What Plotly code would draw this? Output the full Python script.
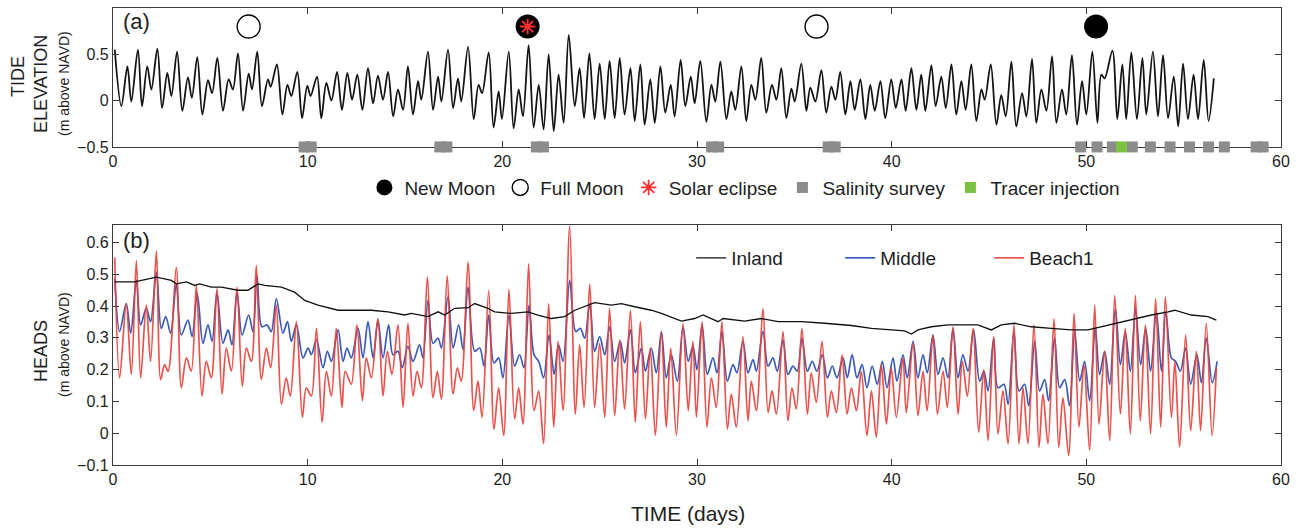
import plotly.graph_objects as go

# ---------------- DATA ----------------
tide_day = [0.09, 0.43, 0.74, 0.94, 1.28, 1.49, 1.76, 1.97, 2.28, 2.52, 2.79, 3.0, 3.29, 3.56, 3.85, 4.05,
            4.33, 4.59, 4.88, 5.09, 5.36, 5.65, 5.94, 6.16, 6.42, 6.68, 6.97, 7.14, 7.41, 7.65, 7.96, 8.1,
            8.42, 8.7, 8.96, 9.16, 9.47, 9.71, 9.98, 10.15, 10.48, 10.7, 10.96, 11.22, 11.51, 11.76, 12.04, 12.28,
            12.55, 12.81, 13.1, 13.36, 13.61, 13.87, 14.13, 14.39, 14.64, 14.9,
            15.15, 15.41, 15.67, 15.84, 16.18, 16.44, 16.7, 16.87, 17.21, 17.47, 17.72, 17.89, 18.24, 18.53, 18.78, 18.96,
            19.3, 19.55, 19.81, 19.98, 20.33, 20.58, 20.84, 21.06, 21.35, 21.61, 21.87, 22.12, 22.38, 22.64, 22.89, 23.15,
            23.41, 23.72, 23.97, 24.2, 24.47, 24.74, 25.0, 25.26, 25.51, 25.77, 26.03, 26.28, 26.58, 26.8, 27.09, 27.31,
            27.6, 27.83, 28.12, 28.37, 28.65, 28.85, 29.16, 29.4, 29.68, 29.88,
            30.17, 30.48, 30.74, 30.94, 31.2, 31.51, 31.76, 31.97, 32.28, 32.53, 32.79, 33.0, 33.3, 33.56, 33.85, 34.08,
            34.33, 34.59, 34.85, 35.02, 35.36, 35.62, 35.82, 36.08, 36.39, 36.64, 36.9, 37.11, 37.36, 37.62, 37.88, 38.1,
            38.39, 38.65, 38.9, 39.13, 39.42, 39.67, 39.98, 40.21, 40.5, 40.72, 41.01, 41.27, 41.52, 41.73, 42.04, 42.26,
            42.55, 42.78, 43.07, 43.32, 43.58, 43.8, 44.09, 44.35, 44.61, 44.78,
            45.09, 45.38, 45.63, 45.86, 46.15, 46.4, 46.7, 46.92, 47.21, 47.43, 47.69, 47.95, 48.24, 48.46, 48.75, 48.97,
            49.26, 49.52, 49.78, 50.0, 50.31, 50.57, 50.77, 50.94, 51.34, 51.59, 51.85, 52.05, 52.31, 52.6, 52.88, 53.08,
            53.42, 53.68, 53.94, 54.2, 54.49, 54.72, 54.97, 55.22, 55.51, 55.74, 56.03, 56.28, 56.55]
tide_m = [0.55, -0.06, 0.37, -0.01, 0.55, -0.06, 0.37, 0.12, 0.56, -0.08, 0.30, 0.05, 0.53, -0.11, 0.25, 0.03,
          0.47, -0.15, 0.22, 0.08, 0.46, -0.11, 0.23, 0.12, 0.51, -0.11, 0.29, 0.12, 0.53, -0.06, 0.23, 0.15,
          0.39, -0.15, 0.17, 0.05, 0.31, -0.19, 0.16, 0.05, 0.26, -0.19, 0.19, 0.0, 0.31, -0.10, 0.30, 0.01,
          0.28, -0.10, 0.35, -0.03, 0.27, 0.01, 0.31, -0.17, 0.12, -0.10,
          0.37, -0.15, 0.21, 0.01, 0.53, -0.10, 0.26, -0.01, 0.55, -0.08, 0.24, -0.01, 0.58, -0.20, 0.17, 0.08,
          0.52, -0.29, 0.10, -0.20, 0.53, -0.30, 0.12, -0.17, 0.60, -0.29, 0.17, -0.31, 0.50, -0.33, 0.28, -0.24,
          0.71, -0.06, 0.35, -0.19, 0.51, -0.20, 0.40, -0.20, 0.43, -0.19, 0.46, -0.15, 0.35, -0.22, 0.39, -0.26,
          0.23, -0.24, 0.37, -0.13, 0.17, -0.17, 0.44, -0.06, 0.26, -0.03,
          0.43, -0.23, 0.17, -0.01, 0.42, -0.20, 0.10, -0.10, 0.37, -0.22, 0.17, 0.01, 0.46, -0.13, 0.17, 0.01,
          0.35, -0.19, 0.13, -0.01, 0.40, -0.11, 0.14, -0.01, 0.33, -0.13, 0.15, 0.01, 0.31, -0.15, 0.21, -0.10,
          0.23, -0.20, 0.17, -0.11, 0.21, -0.19, 0.23, -0.08, 0.23, -0.11, 0.35, -0.10, 0.28, -0.11, 0.38, -0.06,
          0.26, -0.08, 0.39, -0.15, 0.21, -0.10, 0.39, -0.22, 0.12, 0.01,
          0.39, -0.26, 0.06, -0.17, 0.42, -0.28, 0.08, -0.17, 0.45, -0.24, 0.12, -0.11, 0.48, -0.24, 0.12, -0.15,
          0.49, -0.26, 0.21, -0.15, 0.53, -0.24, 0.28, 0.24, 0.54, -0.20, 0.39, -0.20, 0.52, -0.20, 0.46, -0.15,
          0.53, -0.17, 0.49, -0.19, 0.26, -0.28, 0.40, -0.20, 0.28, -0.20, 0.44, -0.22, 0.24]

new_moon_day = [21.3, 50.5]
full_moon_day = [6.97, 36.14]
eclipse_day = [21.3]
moon_level = 0.8
survey_day = [9.82, 10.18, 16.79, 17.15, 21.75, 22.11, 30.75, 31.11, 36.74, 37.1,
              49.71, 50.55, 51.34, 52.36, 53.29, 54.3, 55.3, 56.28, 57.09, 58.72, 59.08]
tracer_day = [51.8]
axis_floor = -0.5

inland_day = [0.09, 1.11, 2.23, 3.0, 3.25, 3.77, 4.2, 4.45, 5.05, 5.57, 6.42, 6.93, 7.45, 7.79, 8.65,
              9.33, 9.85, 10.53, 11.56, 12.59, 13.27, 14.13, 14.98, 15.33, 16.18, 16.7, 17.04, 17.55, 18.24, 18.58,
              19.26, 19.61, 20.46, 21.32, 21.83, 22.52, 23.2, 23.72, 24.23, 24.74, 25.6, 26.11, 26.8, 27.65, 28.17,
              28.85, 29.2, 29.88, 30.31, 31.08, 31.34, 32.45, 33.3, 34.16, 35.36, 36.56, 37.93, 38.96, 39.98, 40.67,
              41.01, 41.35, 42.04, 42.89, 43.58, 44.43, 45.12, 45.63, 46.32, 47.17, 48.2, 49.23, 50.09, 50.77, 51.46,
              52.31, 53.34, 54.2, 54.54, 55.39, 56.25, 56.68]
inland_m = [0.476, 0.476, 0.491, 0.481, 0.47, 0.476, 0.465, 0.47, 0.46, 0.46, 0.45, 0.45, 0.47, 0.465, 0.46,
            0.444, 0.418, 0.403, 0.387, 0.387, 0.387, 0.382, 0.372, 0.377, 0.367, 0.382, 0.372, 0.393, 0.395, 0.408,
            0.393, 0.382, 0.377, 0.382, 0.372, 0.361, 0.367, 0.387, 0.398, 0.411, 0.403, 0.408, 0.398, 0.387, 0.377,
            0.361, 0.353, 0.361, 0.372, 0.351, 0.361, 0.353, 0.361, 0.351, 0.351, 0.346, 0.339, 0.33, 0.325, 0.322,
            0.312, 0.325, 0.335, 0.341, 0.341, 0.341, 0.325, 0.341, 0.346, 0.335, 0.33, 0.325, 0.325, 0.335, 0.346,
            0.359, 0.372, 0.382, 0.387, 0.372, 0.367, 0.356]

middle_day = [0.09, 0.34, 0.68, 0.91, 1.2, 1.42, 1.71, 1.93, 2.23, 2.48, 2.71, 2.96, 3.25, 3.51, 3.85, 4.06,
              4.33, 4.62, 4.88, 5.09, 5.34, 5.65, 5.91, 6.11, 6.37, 6.63, 6.97, 7.19, 7.4, 7.65, 7.91, 8.13,
              8.39, 8.73, 8.96, 9.16, 9.42, 9.76, 10.02, 10.19, 10.45, 10.79, 11.01, 11.22, 11.56, 11.82, 12.02, 12.24,
              12.59, 12.84, 13.1, 13.36, 13.61, 13.87, 14.16, 14.38, 14.64, 14.86,
              15.15, 15.41, 15.75, 15.92, 16.18, 16.44, 16.7, 16.87, 17.21, 17.47, 17.76, 17.98, 18.24, 18.58, 18.84, 19.06,
              19.3, 19.57, 19.81, 20.03, 20.34, 20.63, 20.89, 21.11, 21.37, 21.63, 21.87, 22.12, 22.4, 22.66, 22.89, 23.12,
              23.46, 23.77, 24.01, 24.23, 24.49, 24.74, 25.0, 25.26, 25.51, 25.77, 26.06, 26.28, 26.58, 26.83, 27.14, 27.35,
              27.65, 27.91, 28.17, 28.42, 28.68, 28.99, 29.28, 29.55, 29.79,
              30.0, 30.26, 30.53, 30.82, 31.03, 31.28, 31.56, 31.85, 32.05, 32.36, 32.62, 32.88, 33.05, 33.39, 33.65, 33.9,
              34.12, 34.42, 34.67, 34.93, 35.15, 35.39, 35.67, 35.92, 36.16, 36.44, 36.7, 36.95, 37.19, 37.5, 37.72, 37.97,
              38.22, 38.48, 38.73, 39.0, 39.26, 39.52, 39.76, 40.07, 40.27, 40.58, 40.8, 41.1, 41.35, 41.61, 41.83, 42.12,
              42.38, 42.64, 42.89, 43.15, 43.41, 43.66, 43.92, 44.21, 44.52, 44.74,
              44.95, 45.24, 45.46, 45.77, 45.98, 46.28, 46.54, 46.83, 47.04, 47.35, 47.6, 47.86, 48.06, 48.37, 48.63, 48.89,
              49.14, 49.4, 49.66, 49.91, 50.17, 50.46, 50.68, 50.94, 51.2, 51.49, 51.75, 52.0, 52.26, 52.53, 52.79, 53.05,
              53.3, 53.6, 53.86, 54.08, 54.37, 54.59, 54.83, 55.1, 55.36, 55.68, 55.91, 56.16, 56.47, 56.72]
middle_m = [0.486, 0.32, 0.408, 0.315, 0.481, 0.341, 0.393, 0.351, 0.507, 0.33, 0.367, 0.315, 0.47, 0.309, 0.356, 0.304,
            0.439, 0.283, 0.341, 0.289, 0.444, 0.283, 0.325, 0.278, 0.444, 0.309, 0.372, 0.32, 0.496, 0.335, 0.341, 0.32,
            0.424, 0.315, 0.351, 0.289, 0.341, 0.237, 0.268, 0.247, 0.294, 0.206, 0.258, 0.226, 0.325, 0.226, 0.268, 0.237,
            0.33, 0.237, 0.351, 0.237, 0.356, 0.237, 0.341, 0.247, 0.258, 0.206,
            0.273, 0.226, 0.278, 0.237, 0.418, 0.283, 0.299, 0.268, 0.429, 0.268, 0.341, 0.263, 0.46, 0.258, 0.268, 0.211,
            0.372, 0.221, 0.237, 0.174, 0.372, 0.211, 0.247, 0.206, 0.403, 0.247, 0.226, 0.174, 0.309, 0.185, 0.278, 0.226,
            0.481, 0.32, 0.33, 0.299, 0.408, 0.258, 0.304, 0.247, 0.335, 0.226, 0.289, 0.221, 0.325, 0.19, 0.268, 0.195,
            0.268, 0.19, 0.32, 0.174, 0.247, 0.164, 0.335, 0.226, 0.273,
            0.2, 0.341, 0.185, 0.237, 0.19, 0.32, 0.164, 0.216, 0.19, 0.289, 0.19, 0.232, 0.195, 0.32, 0.211, 0.237,
            0.195, 0.294, 0.185, 0.211, 0.195, 0.299, 0.195, 0.226, 0.195, 0.247, 0.174, 0.211, 0.174, 0.237, 0.174, 0.247,
            0.174, 0.216, 0.143, 0.211, 0.154, 0.226, 0.143, 0.237, 0.164, 0.247, 0.174, 0.289, 0.174, 0.247, 0.19, 0.309,
            0.185, 0.237, 0.174, 0.33, 0.174, 0.247, 0.195, 0.325, 0.164, 0.195,
            0.133, 0.299, 0.143, 0.154, 0.091, 0.32, 0.133, 0.154, 0.086, 0.289, 0.133, 0.169, 0.102, 0.299, 0.143, 0.169,
            0.086, 0.32, 0.164, 0.226, 0.102, 0.335, 0.185, 0.258, 0.154, 0.393, 0.216, 0.32, 0.195, 0.393, 0.216, 0.33,
            0.195, 0.382, 0.195, 0.382, 0.237, 0.226, 0.195, 0.268, 0.154, 0.247, 0.159, 0.299, 0.159, 0.226]

beach_day = [0.09, 0.34, 0.68, 0.94, 1.2, 1.42, 1.71, 1.93, 2.23, 2.45, 2.65, 2.83, 3.25, 3.51, 3.77, 4.02,
             4.28, 4.57, 4.79, 5.05, 5.34, 5.6, 5.82, 6.08, 6.37, 6.64, 6.85, 7.11, 7.36, 7.62, 7.88, 8.1,
             8.39, 8.65, 8.9, 9.11, 9.42, 9.73, 9.93, 10.19, 10.45, 10.74, 10.96, 11.22, 11.47, 11.76, 11.93, 12.24,
             12.53, 12.81, 13.01, 13.27, 13.61, 13.87, 14.09, 14.33, 14.64, 14.9,
             15.15, 15.41, 15.62, 15.84, 16.15, 16.44, 16.66, 16.87, 17.17, 17.47, 17.69, 17.89, 18.24, 18.53, 18.75, 18.96,
             19.3, 19.57, 19.81, 20.07, 20.34, 20.63, 20.84, 21.06, 21.35, 21.63, 21.87, 22.12, 22.38, 22.64, 22.86, 23.12,
             23.46, 23.75, 23.97, 24.2, 24.49, 24.74, 25.0, 25.26, 25.51, 25.77, 26.03, 26.28, 26.58, 26.83, 27.09, 27.35,
             27.6, 27.86, 28.17, 28.42, 28.65, 28.94, 29.28, 29.55, 29.79,
             29.97, 30.26, 30.51, 30.74, 30.99, 31.28, 31.56, 31.76, 32.02, 32.36, 32.62, 32.79, 33.05, 33.39, 33.65, 33.85,
             34.08, 34.42, 34.67, 34.88, 35.1, 35.39, 35.67, 35.87, 36.13, 36.42, 36.7, 36.9, 37.16, 37.45, 37.71, 37.93,
             38.19, 38.44, 38.73, 38.96, 39.21, 39.47, 39.73, 39.98, 40.24, 40.58, 40.75, 41.1, 41.35, 41.61, 41.82, 42.12,
             42.35, 42.64, 42.86, 43.15, 43.41, 43.63, 43.89, 44.18, 44.47, 44.73,
             44.95, 45.24, 45.46, 45.72, 45.98, 46.28, 46.54, 46.75, 47.0, 47.31, 47.57, 47.77, 48.03, 48.34, 48.58, 48.8,
             49.09, 49.37, 49.62, 49.88, 50.17, 50.43, 50.65, 50.94, 51.2, 51.46, 51.75, 52.0, 52.26, 52.52, 52.77, 53.03,
             53.3, 53.56, 53.82, 54.06, 54.37, 54.55, 54.79, 55.1, 55.36, 55.65, 55.87, 56.16, 56.46, 56.68]
beach_m = [0.553, 0.174, 0.408, 0.185, 0.543, 0.174, 0.403, 0.226, 0.574, 0.169, 0.216, 0.195, 0.522, 0.143, 0.237, 0.195,
           0.465, 0.117, 0.226, 0.174, 0.455, 0.123, 0.268, 0.195, 0.46, 0.148, 0.268, 0.226, 0.528, 0.169, 0.268, 0.206,
           0.403, 0.091, 0.174, 0.117, 0.351, 0.05, 0.143, 0.117, 0.33, 0.034, 0.195, 0.117, 0.33, 0.081, 0.195, 0.154,
           0.341, 0.102, 0.237, 0.174, 0.361, 0.117, 0.258, 0.185, 0.341, 0.081,
           0.346, 0.117, 0.195, 0.143, 0.491, 0.112, 0.195, 0.107, 0.496, 0.123, 0.206, 0.164, 0.538, 0.071, 0.164, 0.05,
           0.45, 0.013, 0.143, -0.007, 0.453, 0.045, 0.143, 0.029, 0.533, 0.071, 0.133, -0.033, 0.408, 0.019, 0.289, 0.071,
           0.652, 0.06, 0.278, 0.081, 0.47, 0.081, 0.283, 0.05, 0.393, 0.055, 0.294, 0.076, 0.387, 0.034, 0.351, 0.045,
           0.268, -0.007, 0.32, 0.019, 0.268, -0.007, 0.346, 0.071, 0.289,
           0.05, 0.351, 0.019, 0.174, 0.081, 0.351, 0.013, 0.123, 0.019, 0.304, 0.039, 0.164, 0.071, 0.393, 0.065, 0.133,
           0.06, 0.32, 0.039, 0.143, 0.076, 0.33, 0.06, 0.19, 0.097, 0.289, 0.05, 0.133, 0.065, 0.247, 0.06, 0.143,
           0.071, 0.195, -0.007, 0.133, -0.012, 0.216, 0.029, 0.206, 0.05, 0.237, 0.065, 0.283, 0.055, 0.195, 0.071, 0.309,
           0.06, 0.195, 0.081, 0.335, 0.06, 0.226, 0.117, 0.33, 0.003, 0.2,
           -0.023, 0.304, -0.002, 0.133, -0.033, 0.341, -0.033, 0.143, -0.033, 0.341, -0.044, 0.123, -0.033, 0.361, -0.044, 0.112,
           -0.07, 0.377, 0.019, 0.216, -0.054, 0.403, 0.029, 0.258, -0.023, 0.434, 0.06, 0.33, -0.002, 0.434, 0.039, 0.341,
           -0.002, 0.424, 0.019, 0.429, 0.05, 0.226, -0.044, 0.309, 0.008, 0.258, 0.008, 0.346, -0.007, 0.206]

x_ticks = [0, 10, 20, 30, 40, 50, 60]

# ---------------- FIGURE ----------------
FONT = "Liberation Sans, Arial, sans-serif"
TXT = "#1e1e1e"
fig = go.Figure()

fig.add_trace(go.Scatter(x=tide_day, y=tide_m, mode="lines", xaxis="x", yaxis="y",
                         line=dict(color="#141414", width=1.8, shape="spline", smoothing=0.9),
                         showlegend=False, hoverinfo="skip"))

fig.add_trace(go.Scatter(x=new_moon_day, y=[moon_level] * len(new_moon_day), mode="markers",
                         name="New Moon", xaxis="x", yaxis="y",
                         marker=dict(symbol="circle", size=24, color="black"), legend="legend"))
fig.add_trace(go.Scatter(x=full_moon_day, y=[moon_level] * len(full_moon_day), mode="markers",
                         name="Full Moon", xaxis="x", yaxis="y",
                         marker=dict(symbol="circle", size=23, color="white",
                                     line=dict(color="black", width=1.4)), legend="legend"))
fig.add_trace(go.Scatter(x=eclipse_day, y=[moon_level] * len(eclipse_day), mode="markers",
                         name="Solar eclipse", xaxis="x", yaxis="y",
                         marker=dict(symbol="asterisk-open", size=13, color="#ff3030",
                                     line=dict(color="#ff3030", width=1.8)), legend="legend"))
fig.add_trace(go.Scatter(x=survey_day, y=[axis_floor] * len(survey_day), mode="markers",
                         name="Salinity survey", xaxis="x", yaxis="y", cliponaxis=False,
                         marker=dict(symbol="square", size=11, color="#8c8c8c"), legend="legend"))
fig.add_trace(go.Scatter(x=tracer_day, y=[axis_floor] * len(tracer_day), mode="markers",
                         name="Tracer injection", xaxis="x", yaxis="y", cliponaxis=False,
                         marker=dict(symbol="square", size=11, color="#7cc242"), legend="legend"))

fig.add_trace(go.Scatter(x=middle_day, y=middle_m, mode="lines", name="Middle", xaxis="x2", yaxis="y2",
                         line=dict(color="#3a5cb8", width=1.7, shape="spline", smoothing=0.9),
                         legend="legend2", legendrank=2, hoverinfo="skip"))
fig.add_trace(go.Scatter(x=beach_day, y=beach_m, mode="lines", name="Beach1", xaxis="x2", yaxis="y2",
                         line=dict(color="#e8403a", width=1.7, shape="spline", smoothing=0.9), opacity=0.9,
                         legend="legend2", legendrank=3, hoverinfo="skip"))
fig.add_trace(go.Scatter(x=inland_day, y=inland_m, mode="lines", name="Inland", xaxis="x2", yaxis="y2",
                         line=dict(color="#111111", width=1.3),
                         legend="legend2", legendrank=1, hoverinfo="skip"))

axis_common = dict(showline=True, mirror="ticks", linecolor="#3a3a3a", linewidth=1.3,
                   ticks="inside", ticklen=6, tickcolor="#3a3a3a", showgrid=False, zeroline=False,
                   tickfont=dict(family=FONT, size=16, color=TXT))

fig.update_layout(
    width=1302, height=529, autosize=False,
    margin=dict(l=113, r=21, t=8, b=64),
    paper_bgcolor="white", plot_bgcolor="white",
    font=dict(family=FONT, color=TXT),
    xaxis=dict(domain=[0, 1], range=[0, 60], anchor="y", tickvals=x_ticks, layer="below traces", **axis_common),
    yaxis=dict(domain=[0.696, 1.0], range=[-0.5, 1], anchor="x", tickvals=[-0.5, 0, 0.5, 1], **axis_common),
    xaxis2=dict(domain=[0, 1], range=[0, 60], anchor="y2", tickvals=x_ticks, **axis_common),
    yaxis2=dict(domain=[0, 0.525], range=[-0.1, 0.655], anchor="x2", tick0=-0.1, dtick=0.1, **axis_common),
    legend=dict(orientation="h", x=0.541, xanchor="center", y=0.607, yanchor="middle",
                font=dict(family=FONT, size=19, color=TXT), bgcolor="rgba(0,0,0,0)",
                itemsizing="trace", tracegroupgap=0),
    legend2=dict(orientation="h", x=0.495, xanchor="left", y=0.453, yanchor="middle",
                 font=dict(family=FONT, size=19, color=TXT), bgcolor="rgba(0,0,0,0)",
                 entrywidth=104, traceorder="normal"),
    showlegend=True,
)

def px_x(p):
    return (p - 113) / 1168.0

def px_y(p):
    return (465 - p) / 457.0

ann = [
    dict(text="(a)", x=px_x(121), y=px_y(22), xanchor="left", yanchor="middle", size=22),
    dict(text="(b)", x=px_x(121), y=px_y(240), xanchor="left", yanchor="middle", size=22),
    dict(text="TIDE", x=px_x(18), y=px_y(77), xanchor="center", yanchor="middle", size=18, angle=-90),
    dict(text="ELEVATION", x=px_x(41), y=px_y(84), xanchor="center", yanchor="middle", size=18, angle=-90),
    dict(text="(m above NAVD)", x=px_x(64), y=px_y(84), xanchor="center", yanchor="middle", size=14, angle=-90),
    dict(text="HEADS", x=px_x(41), y=px_y(351), xanchor="center", yanchor="middle", size=18, angle=-90),
    dict(text="(m above NAVD)", x=px_x(64), y=px_y(345), xanchor="center", yanchor="middle", size=14, angle=-90),
    dict(text="TIME (days)", x=px_x(688), y=px_y(513), xanchor="center", yanchor="middle", size=21),
]
for a in ann:
    fig.add_annotation(text=a["text"], xref="paper", yref="paper", x=a["x"], y=a["y"],
                       xanchor=a["xanchor"], yanchor=a["yanchor"], showarrow=False,
                       textangle=a.get("angle", 0),
                       font=dict(family=FONT, size=a["size"], color=TXT))

fig.write_html("out.html")
